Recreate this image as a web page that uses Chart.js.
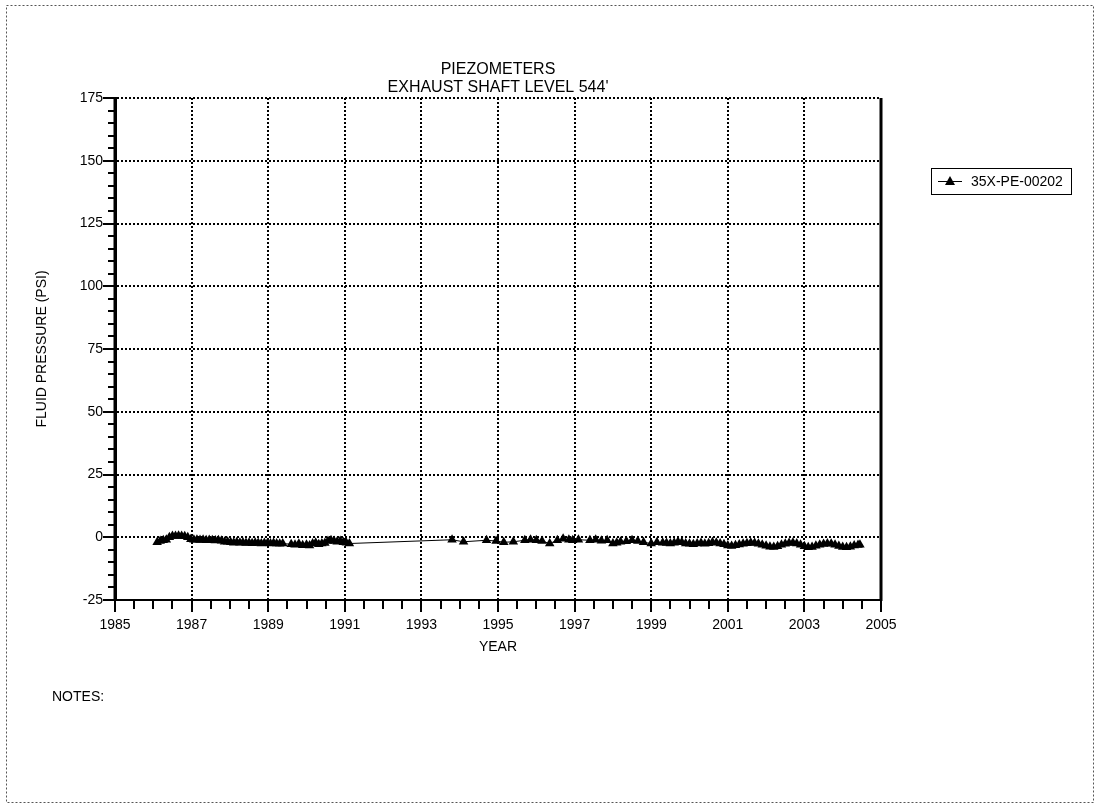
<!DOCTYPE html>
<html>
<head>
<meta charset="utf-8">
<script src="https://cdn.jsdelivr.net/npm/chart.js@4/dist/chart.umd.min.js"></script>
<style>
  body { margin: 0; background: #fff; }
  canvas { display: block; }
</style>
</head>
<body>
<canvas id="piezo" width="1095" height="812"></canvas>
<script>
// values (decimal year, psi)
var years = [
	1986.10, 1986.18, 1986.26, 1986.34, 1986.42, 1986.50, 1986.58, 1986.66, 1986.74, 1986.82,
	1986.90, 1986.98, 1987.06, 1987.14, 1987.22, 1987.30, 1987.38, 1987.46, 1987.54, 1987.62,
	1987.70, 1987.78, 1987.86, 1987.94, 1988.02, 1988.10, 1988.18, 1988.26, 1988.34, 1988.42,
	1988.50, 1988.58, 1988.66, 1988.74, 1988.82, 1988.90, 1988.98, 1989.06, 1989.14, 1989.22,
	1989.30, 1989.38, 1989.60, 1989.70, 1989.80, 1989.90, 1990.00, 1990.08, 1990.16, 1990.24,
	1990.32, 1990.40, 1990.48, 1990.56, 1990.64, 1990.72, 1990.80, 1990.88, 1990.96, 1991.04,
	1991.12,
	1993.80, 1994.10, 1994.70, 1994.95, 1995.15, 1995.40, 1995.70, 1995.85, 1996.00, 1996.15,
	1996.35, 1996.55, 1996.70, 1996.85, 1996.95, 1997.10, 1997.40, 1997.55, 1997.70, 1997.85,
	1998.00, 1998.10, 1998.20, 1998.35, 1998.50, 1998.65, 1998.80, 1999.00, 1999.15, 1999.30,
	1999.40, 1999.50, 1999.60, 1999.70, 1999.80, 1999.90, 2000.00, 2000.10, 2000.20, 2000.30,
	2000.40, 2000.50, 2000.60, 2000.70, 2000.80, 2000.90, 2001.00, 2001.10, 2001.20, 2001.30,
	2001.40, 2001.50, 2001.60, 2001.70, 2001.80, 2001.90, 2002.00, 2002.10, 2002.20, 2002.30,
	2002.40, 2002.50, 2002.60, 2002.70, 2002.80, 2002.90, 2003.00, 2003.10, 2003.20, 2003.30,
	2003.40, 2003.50, 2003.60, 2003.70, 2003.80, 2003.90, 2004.00, 2004.10, 2004.20, 2004.30,
	2004.40, 2004.45
];
var pressure = [
	-2.0, -1.5, -1.2, -1.0, 0.0, 0.5, 0.5, 0.6, 0.5, 0.4,
	0.0, -0.8, -1.0, -1.0, -1.1, -1.0, -1.2, -1.1, -1.2, -1.3,
	-1.2, -1.4, -1.8, -1.8, -2.0, -2.2, -2.0, -2.2, -2.1, -2.3,
	-2.2, -2.4, -2.2, -2.3, -2.5, -2.3, -2.4, -2.5, -2.3, -2.5,
	-2.6, -2.5, -2.8, -3.0, -2.6, -3.2, -3.0, -3.3, -2.5, -2.2,
	-2.8, -2.5, -2.3, -1.5, -1.2, -1.5, -1.8, -1.5, -2.0, -2.2,
	-2.5,
	-1.0, -1.8, -1.2, -1.5, -2.0, -1.8, -1.2, -1.0, -1.2, -1.5,
	-2.5, -1.2, -0.6, -1.0, -1.2, -1.0, -1.2, -1.0, -1.4, -1.2,
	-2.5, -2.2, -1.8, -1.6, -1.2, -1.5, -2.0, -2.5, -2.0, -2.2,
	-2.3, -2.5, -2.2, -1.8, -2.0, -2.5, -2.6, -2.8, -2.5, -2.3,
	-2.6, -2.4, -2.0, -2.2, -2.5, -2.8, -3.3, -3.5, -3.2, -2.9,
	-2.6, -2.4, -2.2, -2.3, -2.6, -3.0, -3.4, -3.8, -3.9, -3.6,
	-3.0, -2.6, -2.3, -2.2, -2.5, -3.0, -3.6, -4.0, -3.9, -3.4,
	-3.0, -2.7, -2.5, -2.6, -3.0, -3.5, -3.9, -4.0, -3.8, -3.3,
	-3.1, -3.0
];
var seriesName = '35X-PE-00202';
var titleLines = ['PIEZOMETERS', "EXHAUST SHAFT LEVEL 544'"];
var xTitle = 'YEAR';
var yTitle = 'FLUID PRESSURE (PSI)';
var notesText = 'NOTES:';

var points = years.map(function (yr, i) { return { x: yr, y: pressure[i] }; });
var FONT = '"Liberation Sans", Arial, sans-serif';

var extras = {
	id: 'extras',
	afterDraw: function (chart) {
		var ctx = chart.ctx, area = chart.chartArea;
		var xs = chart.scales.x, ys = chart.scales.y;
		ctx.save();
		ctx.setLineDash([]);

		// page border
		ctx.strokeStyle = '#555';
		ctx.lineWidth = 1;
		ctx.setLineDash([2, 2]);
		ctx.strokeRect(6.5, 5.5, 1087, 797);
		ctx.setLineDash([]);

		// solid axes (grid dash also hits the border in v4)
		ctx.strokeStyle = '#000';
		ctx.lineWidth = 3;
		ctx.beginPath();
		ctx.moveTo(area.left, area.top);
		ctx.lineTo(area.left, area.bottom + 1);
		ctx.moveTo(area.right, area.top);
		ctx.lineTo(area.right, area.bottom + 1);
		ctx.stroke();
		ctx.lineWidth = 2;
		ctx.beginPath();
		ctx.moveTo(area.left, area.bottom);
		ctx.lineTo(area.right, area.bottom);
		ctx.stroke();

		// minor ticks
		ctx.lineWidth = 2;
		ctx.beginPath();
		for (var v = 1985.5; v < 2005; v += 0.5) {
			if (Math.abs(v - Math.round(v)) < 0.01 && Math.round(v) % 2 === 1) continue;
			var px = Math.round(xs.getPixelForValue(v));
			ctx.moveTo(px, area.bottom);
			ctx.lineTo(px, area.bottom + 9);
		}
		for (var w = -20; w < 175; w += 5) {
			if (w % 25 === 0) continue;
			var py = Math.round(ys.getPixelForValue(w));
			ctx.moveTo(area.left, py);
			ctx.lineTo(area.left - 7, py);
		}
		ctx.stroke();

		// titles
		ctx.fillStyle = '#000';
		ctx.textAlign = 'center';
		ctx.textBaseline = 'middle';
		ctx.font = '16px ' + FONT;
		var cx = (area.left + area.right) / 2;
		ctx.fillText(titleLines[0], cx, 70);
		ctx.fillText(titleLines[1], cx, 88);
		ctx.font = '14px ' + FONT;
		ctx.fillText(xTitle, cx, 647);
		ctx.save();
		ctx.translate(42, (area.top + area.bottom) / 2);
		ctx.rotate(-Math.PI / 2);
		ctx.fillText(yTitle, 0, 0);
		ctx.restore();
		ctx.textAlign = 'left';
		ctx.fillText(notesText, 52, 697);

		// legend
		ctx.lineWidth = 1;
		ctx.strokeRect(931.5, 168.5, 140, 26);
		ctx.beginPath();
		ctx.moveTo(938, 181.5);
		ctx.lineTo(962, 181.5);
		ctx.stroke();
		ctx.beginPath();
		ctx.moveTo(950, 176);
		ctx.lineTo(955, 185);
		ctx.lineTo(945, 185);
		ctx.closePath();
		ctx.fill();
		ctx.font = '14px ' + FONT;
		ctx.fillText(chart.data.datasets[0].label, 971, 182);

		ctx.restore();
	}
};

var gridOpts = {
	color: '#000',
	lineWidth: 2,
	tickLength: 12,
	tickWidth: 2,
	tickColor: '#000',
	tickBorderDash: []
};

var ctx = document.getElementById('piezo').getContext('2d');
var piezoChart = new Chart(ctx, {
	type: 'line',
	data: {
		datasets: [{
			label: seriesName,
			data: points,
			borderColor: '#000',
			backgroundColor: '#000',
			borderWidth: 1,
			pointStyle: 'triangle',
			pointRadius: 5.5,
			pointBorderWidth: 0,
			tension: 0
		}]
	},
	options: {
		responsive: false,
		animation: false,
		layout: { padding: { left: 0, top: 98, right: 214, bottom: 0 } },
		plugins: {
			legend: { display: false },
			title: { display: false },
			tooltip: { enabled: false }
		},
		scales: {
			x: {
				type: 'linear',
				min: 1985,
				max: 2005,
				afterFit: function (s) { s.height = 212; },
				afterBuildTicks: function (s) {
					var t = [];
					for (var v = 1985; v <= 2005; v += 2) t.push({ value: v });
					s.ticks = t;
				},
				ticks: {
					autoSkip: false,
					maxRotation: 0,
					padding: 5,
					color: '#000',
					font: { family: FONT, size: 14 },
					callback: function (v) { return String(v); }
				},
				grid: gridOpts,
				border: { color: '#000', width: 2, dash: [2, 2] }
			},
			y: {
				min: -25,
				max: 175,
				afterFit: function (s) { s.width = 115; },
				ticks: {
					stepSize: 25,
					padding: 0,
					color: '#000',
					font: { family: FONT, size: 14 }
				},
				grid: gridOpts,
				border: { color: '#000', width: 3, dash: [2, 2] }
			}
		}
	},
	plugins: [extras]
});
</script>
</body>
</html>
